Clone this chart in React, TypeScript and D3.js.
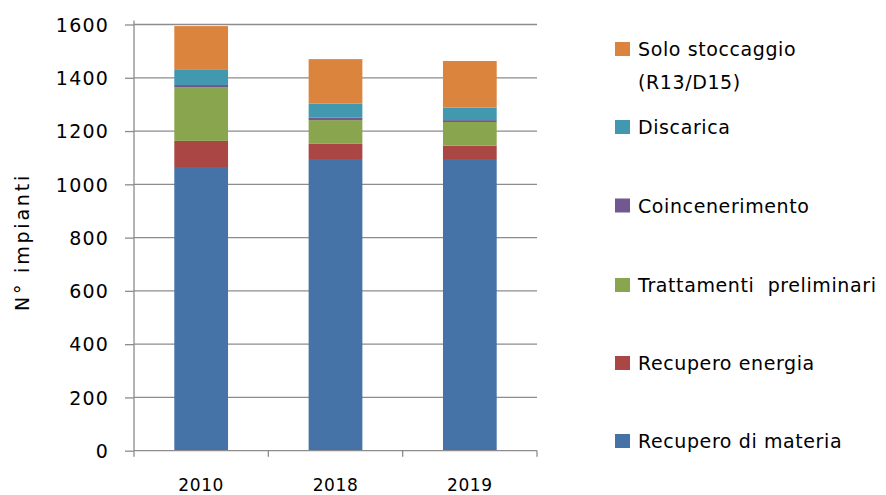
import { FC, useEffect, useRef } from 'react';
import * as d3 from 'd3';

// years on the x axis
const years = ['2010', '2018', '2019'];

// stacked series, bottom to top
const seriesNames = [
  'Recupero di materia',
  'Recupero energia',
  'Trattamenti  preliminari',
  'Coincenerimento',
  'Discarica',
  'Solo stoccaggio (R13/D15)',
];

const recuperoMateria = [1065, 1095, 1095];
const recuperoEnergia = [98, 57, 50];
const trattamentiPreliminari = [202, 89, 89];
const coincenerimento = [8, 9, 7];
const discarica = [59, 53, 47];
const soloStoccaggio = [162, 167, 175];

const yTicks = [0, 200, 400, 600, 800, 1000, 1200, 1400, 1600];

const colors = ['#4572A7', '#AA4643', '#89A54E', '#71588F', '#4198AF', '#DB843D'];

const FONT = '"DejaVu Sans", sans-serif';

const App: FC = () => {
  const svgRef = useRef<SVGSVGElement>(null);

  useEffect(() => {
    if (!svgRef.current) return;
    const svg = d3.select(svgRef.current);
    svg.selectAll('*').remove();

    const values = [
      recuperoMateria,
      recuperoEnergia,
      trattamentiPreliminari,
      coincenerimento,
      discarica,
      soloStoccaggio,
    ];

    const rows = years.map((year, i) => {
      const row: Record<string, number | string> = { year };
      seriesNames.forEach((name, s) => (row[name] = values[s][i]));
      return row;
    });

    const plotLeft = 134;
    const plotRight = 537;
    const plotTop = 24.5;
    const plotBottom = 450.7;

    const x = d3.scaleBand<string>()
      .domain(years)
      .range([plotLeft, plotRight])
      .paddingInner(0.6)
      .paddingOuter(0.3);

    const y = d3.scaleLinear()
      .domain([0, 1600])
      .range([plotBottom, plotTop]);

    // gridlines
    svg.append('g')
      .selectAll('line')
      .data(yTicks.filter(t => t > 0))
      .enter()
      .append('line')
      .attr('x1', plotLeft)
      .attr('x2', plotRight)
      .attr('y1', d => y(d))
      .attr('y2', d => y(d))
      .attr('stroke', '#8c8c8c')
      .attr('stroke-width', 1.3);

    // stacked bars
    const stack = d3.stack<Record<string, number | string>>()
      .keys(seriesNames)
      .value((d, key) => d[key] as number);
    const layers = stack(rows);

    svg.append('g')
      .selectAll('g')
      .data(layers)
      .enter()
      .append('g')
      .attr('fill', (d, i) => colors[i])
      .selectAll('rect')
      .data(d => d)
      .enter()
      .append('rect')
      .attr('x', d => x(d.data.year as string) as number)
      .attr('width', x.bandwidth())
      .attr('y', d => y(d[1]))
      .attr('height', d => y(d[0]) - y(d[1]));

    // y axis
    const yAxis = svg.append('g')
      .attr('transform', `translate(${plotLeft},0)`)
      .call(d3.axisLeft(y).tickValues(yTicks).tickSize(9).tickPadding(16).tickFormat(d => `${d}`));
    yAxis.select('.domain').attr('stroke', '#8c8c8c').attr('stroke-width', 1.3)
      .attr('d', `M0,${plotTop - 4}V${plotBottom}`);
    yAxis.selectAll('line').attr('stroke', '#8c8c8c').attr('stroke-width', 1.3);
    yAxis.selectAll('text')
      .attr('font-family', FONT)
      .attr('font-size', 19)
      .attr('fill', '#000')
      .attr('letter-spacing', 1.2)
      .attr('dy', '0.36em');

    // x axis
    const xAxis = svg.append('g')
      .attr('transform', `translate(0,${plotBottom})`);
    xAxis.append('line')
      .attr('x1', plotLeft)
      .attr('x2', plotRight)
      .attr('stroke', '#8c8c8c')
      .attr('stroke-width', 1.3);
    const boundaries = [plotLeft, ...years.map(yr => (x(yr) as number) + x.bandwidth() / 2 + x.step() / 2)];
    xAxis.selectAll('.xtick')
      .data(boundaries)
      .enter()
      .append('line')
      .attr('x1', d => d)
      .attr('x2', d => d)
      .attr('y1', 0)
      .attr('y2', 6)
      .attr('stroke', '#8c8c8c')
      .attr('stroke-width', 1.3);
    xAxis.selectAll('text')
      .data(years)
      .enter()
      .append('text')
      .attr('x', d => (x(d) as number) + x.bandwidth() / 2)
      .attr('y', 40)
      .attr('text-anchor', 'middle')
      .attr('font-family', FONT)
      .attr('font-size', 17)
      .attr('letter-spacing', 0.6)
      .text(d => d);

    // y axis title
    svg.append('text')
      .attr('transform', `translate(29,242) rotate(-90)`)
      .attr('text-anchor', 'middle')
      .attr('font-family', FONT)
      .attr('font-size', 19)
      .attr('letter-spacing', 2.8)
      .text('N° impianti');

    // legend, top to bottom
    const legendItems = [
      { idx: 5, lines: ['Solo stoccaggio', '(R13/D15)'], cy: 49 },
      { idx: 4, lines: ['Discarica'], cy: 127 },
      { idx: 3, lines: ['Coincenerimento'], cy: 205.5 },
      { idx: 2, lines: ['Trattamenti  preliminari'], cy: 285 },
      { idx: 1, lines: ['Recupero energia'], cy: 363 },
      { idx: 0, lines: ['Recupero di materia'], cy: 441 },
    ];

    const legend = svg.append('g');
    legendItems.forEach(item => {
      legend.append('rect')
        .attr('x', 615)
        .attr('y', item.cy - 7)
        .attr('width', 15)
        .attr('height', 14)
        .attr('fill', colors[item.idx]);
      item.lines.forEach((line, li) => {
        legend.append('text')
          .attr('x', 638)
          .attr('y', item.cy + 7 + li * 33)
          .attr('font-family', FONT)
          .attr('font-size', 19)
          .attr('letter-spacing', 0.6)
          .attr('xml:space', 'preserve')
          .style('white-space', 'pre')
          .text(line);
      });
    });
  }, []);

  return (
    <div style={{ position: 'absolute', left: 0, top: 0 }}>
      <svg ref={svgRef} width={886} height={495} style={{ display: 'block', background: '#fff' }}></svg>
    </div>
  );
};

export default App;
